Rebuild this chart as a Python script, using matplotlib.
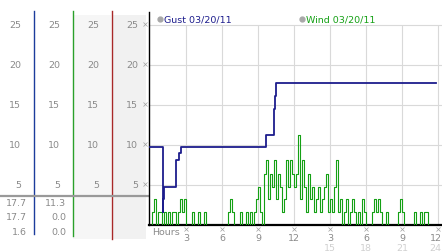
import numpy as np
import matplotlib
matplotlib.use("Agg")
import matplotlib.pyplot as plt

# ---- data (hours after midnight, mph) ----
gust_hours = [0, 1.05, 1.12, 1.2, 2.17, 2.42, 2.6, 9.67, 10.33, 10.42, 10.5, 23.8]
gust_vals = [9.8, 1.6, 3.2, 4.8, 8.1, 9.0, 9.8, 11.3, 14.5, 16.1, 17.7, 17.7]

# wind, 10 minute samples
wind_vals = [
    0, 1.6, 3.2, 0, 1.6, 1.6,
    0, 1.6, 0, 1.6, 0, 1.6,
    1.6, 0, 1.6, 3.2, 1.6, 3.2,
    0, 0, 0, 1.6, 0, 0,
    1.6, 0, 0, 1.6, 0, 0,
    0, 0, 0, 0, 0, 0,
    0, 0, 0, 1.6, 3.2, 1.6,
    0, 0, 0, 1.6, 0, 0,
    1.6, 0, 1.6, 0, 1.6, 3.2,
    4.8, 1.6, 0, 6.4, 8.1, 3.2,
    6.4, 4.8, 8.1, 3.2, 6.4, 4.8,
    1.6, 3.2, 8.1, 4.8, 8.1, 6.4,
    4.8, 6.4, 11.3, 3.2, 8.1, 4.8,
    1.6, 6.4, 3.2, 4.8, 1.6, 3.2,
    4.8, 1.6, 3.2, 4.8, 6.4, 1.6,
    3.2, 1.6, 4.8, 8.1, 1.6, 3.2,
    0, 1.6, 3.2, 0, 1.6, 3.2,
    1.6, 0, 1.6, 0, 3.2, 1.6,
    0, 0, 0, 1.6, 3.2, 1.6,
    3.2, 1.6, 0, 0, 1.6, 0,
    0, 0, 0, 0, 1.6, 3.2,
    1.6, 0, 0, 0, 0, 0,
    1.6, 0, 0, 1.6, 0, 1.6,
    1.6, 0, 0, 0, 0,
]
wind_hours = np.arange(len(wind_vals)) / 6.0

y_ticks = [5, 10, 15, 20, 25]
x_ticks = [3, 6, 9, 12, 15, 18, 21, 24]
x_labels = ["3", "6", "9", "12", "3", "6", "9", "12"]
x_labels2 = {15: "15", 18: "18", 21: "21", 24: "24"}

gust_stats = ["17.7", "17.7", "1.6"]
wind_stats = ["11.3", "0.0", "0.0"]

GUST_C = "#1c1c8c"
WIND_C = "#14a014"
LBL_C = "#8a8a8a"

W, H = 442, 253
fig = plt.figure(figsize=(W / 100, H / 100), dpi=100)
fig.patch.set_facecolor("white")

# ---- background panel (pixel coords) ----
bg = fig.add_axes([0, 0, 1, 1], zorder=0)
bg.set_xlim(0, W); bg.set_ylim(H, 0); bg.axis("off")
bg.fill_between([73, 111], 16, 240, color="#f6f6f6", lw=0)
bg.fill_between([112, 146], 16, 240, color="#f1f1f1", lw=0)
bg.plot([33.5, 33.5], [12, 235], color="#1c3c9c", lw=1)
bg.plot([72.5, 72.5], [12, 237], color="#2aa02a", lw=1)
bg.plot([111.5, 111.5], [12, 240], color="#a82828", lw=1)
bg.plot([0, 149], [196.5, 196.5], color="#999999", lw=1.6)

ymax = 26.6
rect = [149 / W, 27 / H, (W - 149) / W, 213 / H]

# ---- left labels ----
axl = fig.add_axes([0, rect[1], 149 / W, rect[3]], zorder=1)
axl.set_xlim(0, 149); axl.set_ylim(0, ymax); axl.axis("off")
for v in y_ticks:
    for xr in (21, 60, 99, 138):
        axl.text(xr, v, str(v), ha="right", va="center", fontsize=6.8, color=LBL_C)
for i, (g, w) in enumerate(zip(gust_stats, wind_stats)):
    yy = 2.75 - i * 1.75
    axl.text(27, yy, g, ha="right", va="center", fontsize=6.8, color=LBL_C)
    axl.text(66, yy, w, ha="right", va="center", fontsize=6.8, color=LBL_C)

# ---- main plot ----
ax = fig.add_axes(rect, zorder=2)
ax.set_xlim(-1 / 12, (W - 150) / 12)
ax.set_ylim(0, ymax)
for v in y_ticks:
    ax.axhline(v, color="#d9d9d9", lw=0.8, zorder=1)
ax.vlines(x_ticks, 0, 25, color="#d9d9d9", lw=0.8, zorder=1)

ax.plot(wind_hours, wind_vals, drawstyle="steps-post", color=WIND_C, lw=0.8, zorder=3)
ax.plot(gust_hours, gust_vals, drawstyle="steps-post", color=GUST_C, lw=1.3, zorder=4)

for s in ("top", "right"):
    ax.spines[s].set_visible(False)
ax.spines["left"].set_color("black"); ax.spines["left"].set_linewidth(1)
ax.spines["bottom"].set_color("black"); ax.spines["bottom"].set_linewidth(1.6)
ax.set_xticks([]); ax.set_yticks([])

# tick marks drawn as small crosses
ax.plot([-0.42] * len(y_ticks), [v + 0.1 for v in y_ticks], "x", ms=2.2, mew=0.5,
        color="#a0a0a0", clip_on=False)
ax.plot(x_ticks, [-0.55] * len(x_ticks), "x", ms=2.2, mew=0.5, color="#a0a0a0", clip_on=False)

ax.text(1.35, -0.8, "Hours", ha="center", va="center", fontsize=6.8, color=LBL_C, clip_on=False)
for h, lab in zip(x_ticks, x_labels):
    hx = h - 0.2 if h == 24 else h
    ax.text(hx, -1.5, lab, ha="center", va="center", fontsize=6.8, color=LBL_C, clip_on=False)
    if h in x_labels2:
        ax.text(hx, -2.75, x_labels2[h], ha="center", va="center", fontsize=6.8,
                color="#d0d0d0", clip_on=False)

# legend
ax.plot([0.83], [25.75], "o", ms=3.5, color="#a8a8a8", clip_on=False)
ax.text(1.2, 25.75, "Gust 03/20/11", ha="left", va="center", fontsize=6.8, color=GUST_C)
ax.plot([12.65], [25.75], "o", ms=3.5, color="#a8a8a8", clip_on=False)
ax.text(13.02, 25.75, "Wind 03/20/11", ha="left", va="center", fontsize=6.8, color=WIND_C)

fig.savefig("out.png", dpi=100)
